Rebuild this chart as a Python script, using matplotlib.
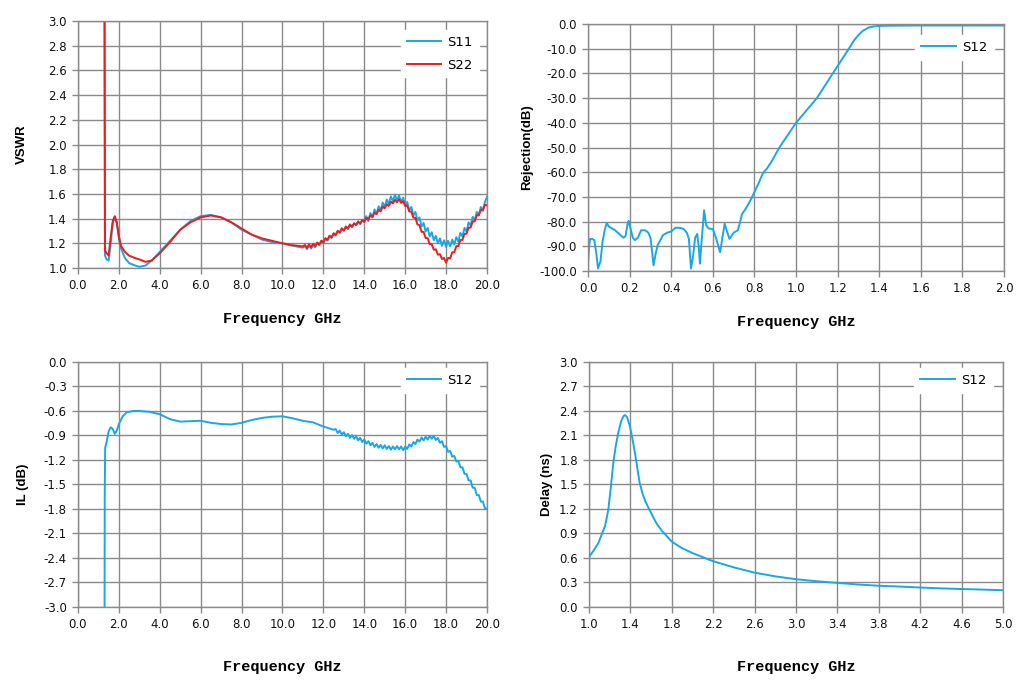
import numpy as np
import matplotlib
matplotlib.use("Agg")
import matplotlib.pyplot as plt

BLUE = "#1aa7e6"
RED = "#ee1c1c"
GRID = "#8a8a8a"

# ---- VSWR (top left) ----
vswr_f_low = [1.30, 1.32, 1.40, 1.50, 1.60, 1.70, 1.80, 1.90, 2.00, 2.10, 2.30, 2.50, 2.80, 3.00,
              3.30, 3.60, 4.00, 4.50, 5.00, 5.50, 6.00, 6.50, 7.00, 7.50, 8.00, 8.50, 9.00, 9.50,
              10.00, 10.50, 11.00]
vswr_f_high = list(np.round(np.arange(11.1, 20.05, 0.1), 1))

s11_low = [3.05, 1.10, 1.07, 1.06, 1.20, 1.36, 1.41, 1.36, 1.24, 1.16, 1.08, 1.04, 1.02, 1.01,
           1.02, 1.06, 1.13, 1.22, 1.31, 1.38, 1.42, 1.43, 1.41, 1.37, 1.31, 1.27, 1.23, 1.21,
           1.20, 1.18, 1.165]
s11_high = [1.177, 1.153, 1.182, 1.158, 1.187, 1.168, 1.202, 1.188, 1.217, 1.203,
            1.237, 1.223, 1.257, 1.243, 1.277, 1.263, 1.297, 1.283, 1.317, 1.303,
            1.332, 1.318, 1.352, 1.333, 1.362, 1.348, 1.377, 1.358, 1.392, 1.373,
            1.42, 1.38, 1.445, 1.41, 1.475, 1.435, 1.50, 1.465, 1.53, 1.495,
            1.555, 1.52, 1.58, 1.54, 1.595, 1.545, 1.59, 1.53, 1.57, 1.505,
            1.535, 1.465, 1.495, 1.425, 1.455, 1.385, 1.41, 1.335, 1.365, 1.295,
            1.325, 1.255, 1.29, 1.225, 1.26, 1.20, 1.24, 1.18, 1.225, 1.17,
            1.22, 1.175, 1.23, 1.19, 1.25, 1.215, 1.285, 1.255, 1.325, 1.295,
            1.37, 1.345, 1.415, 1.385, 1.455, 1.425, 1.495, 1.465, 1.535, 1.575]

s22_low = [3.05, 1.14, 1.12, 1.10, 1.25, 1.38, 1.42, 1.37, 1.26, 1.18, 1.13, 1.10, 1.08, 1.07,
           1.05, 1.06, 1.12, 1.21, 1.31, 1.37, 1.41, 1.425, 1.41, 1.37, 1.32, 1.27, 1.24, 1.22,
           1.20, 1.185, 1.175]
s22_high = [1.187, 1.163, 1.192, 1.168, 1.197, 1.178, 1.207, 1.188, 1.222, 1.208,
            1.242, 1.228, 1.262, 1.248, 1.282, 1.268, 1.302, 1.288, 1.322, 1.303,
            1.337, 1.318, 1.352, 1.333, 1.362, 1.348, 1.377, 1.358, 1.387, 1.373,
            1.407, 1.393, 1.427, 1.413, 1.447, 1.438, 1.472, 1.458, 1.497, 1.483,
            1.517, 1.503, 1.537, 1.523, 1.552, 1.533, 1.557, 1.528, 1.542, 1.503,
            1.507, 1.458, 1.457, 1.408, 1.407, 1.353, 1.347, 1.293, 1.292, 1.243,
            1.242, 1.193, 1.192, 1.148, 1.152, 1.108, 1.112, 1.073, 1.082, 1.043,
            1.082, 1.078, 1.127, 1.128, 1.177, 1.178, 1.227, 1.228, 1.277, 1.278,
            1.327, 1.328, 1.377, 1.378, 1.427, 1.428, 1.472, 1.468, 1.512, 1.508]

# ---- Rejection (top right) ----
rej_f = [0.000, 0.005, 0.010, 0.020, 0.030, 0.040, 0.048, 0.060, 0.070, 0.080, 0.090, 0.100,
         0.130, 0.150, 0.170, 0.180, 0.190, 0.195, 0.205, 0.215, 0.225, 0.240, 0.255, 0.275,
         0.290, 0.300, 0.308, 0.315, 0.325, 0.335, 0.360, 0.380, 0.400, 0.420, 0.440, 0.460,
         0.475, 0.485, 0.495, 0.505, 0.515, 0.525, 0.532, 0.538, 0.546, 0.558, 0.568, 0.580,
         0.600, 0.615, 0.625, 0.635, 0.645, 0.657, 0.668, 0.680, 0.700, 0.720, 0.730, 0.740,
         0.760, 0.780, 0.800, 0.820, 0.840, 0.860, 0.880, 0.900, 0.920, 0.940, 0.960, 0.980,
         1.000, 1.050, 1.100, 1.150, 1.200, 1.250, 1.280, 1.300, 1.320, 1.350, 1.380, 1.420,
         1.600, 2.000]
rej_s12 = [-97.0, -90.0, -87.0, -87.0, -87.5, -93.0, -99.0, -96.0, -88.0, -83.5, -80.5, -82.0,
           -83.5, -85.0, -86.5, -86.0, -81.0, -79.7, -83.0, -86.5, -87.5, -86.5, -83.5, -83.5,
           -84.5, -86.5, -92.0, -97.7, -93.0, -89.5, -85.5, -84.5, -84.0, -82.5, -82.5, -83.0,
           -84.5, -87.0, -99.0, -94.0, -86.5, -85.0, -90.0, -97.0, -88.0, -75.4, -81.5, -82.8,
           -83.0, -86.5, -89.5, -92.4, -87.0, -80.8, -84.0, -87.0, -84.5, -83.5, -80.5, -77.0,
           -74.5, -71.5, -68.0, -64.5, -60.5, -58.5, -56.0, -53.0, -50.0, -47.5, -45.0, -42.5,
           -40.0, -35.0, -30.0, -23.5, -17.0, -10.5, -6.5, -4.5, -2.8, -1.4, -0.9, -0.7,
           -0.6, -0.6]

# ---- Insertion loss (bottom left) ----
il_f_low = [1.30, 1.31, 1.33, 1.40, 1.50, 1.60, 1.70, 1.80, 1.90, 2.00, 2.20, 2.40, 2.70, 3.00,
            3.50, 4.00, 4.50, 5.00, 5.50, 6.00, 6.50, 7.00, 7.50, 8.00, 8.50, 9.00, 9.50, 10.00,
            10.50, 11.00, 11.50, 12.00, 12.50]
il_f_high = list(np.round(np.arange(12.6, 20.05, 0.1), 1))
il_low = [-3.0, -1.6, -1.05, -0.98, -0.85, -0.80, -0.82, -0.88, -0.84, -0.76, -0.66, -0.615,
          -0.60, -0.60, -0.61, -0.64, -0.70, -0.73, -0.725, -0.72, -0.745, -0.76, -0.765,
          -0.745, -0.71, -0.685, -0.67, -0.665, -0.69, -0.72, -0.74, -0.79, -0.83]
il_high = [-0.82, -0.87, -0.84, -0.89, -0.86, -0.91, -0.88, -0.93, -0.895, -0.94,
           -0.91, -0.96, -0.93, -0.98, -0.95, -1.00, -0.97, -1.02, -0.99, -1.04,
           -1.005, -1.05, -1.015, -1.06, -1.02, -1.065, -1.03, -1.075, -1.035, -1.07,
           -1.03, -1.07, -1.035, -1.08, -1.035, -1.065, -1.01, -1.035, -0.98, -1.005,
           -0.95, -0.975, -0.925, -0.96, -0.915, -0.95, -0.905, -0.94, -0.905, -0.955,
           -0.93, -0.99, -0.97, -1.04, -1.03, -1.10, -1.09, -1.16, -1.15, -1.22,
           -1.21, -1.29, -1.29, -1.37, -1.37, -1.45, -1.45, -1.54, -1.54, -1.63,
           -1.63, -1.71, -1.71, -1.79, -1.80]

# ---- Group delay (bottom right) ----
dl_f = [1.00, 1.05, 1.09, 1.155, 1.187, 1.21, 1.235, 1.26, 1.283, 1.31, 1.335, 1.35, 1.37,
        1.396, 1.42, 1.444, 1.47, 1.49, 1.52, 1.55, 1.589, 1.65, 1.70, 1.80, 1.90, 2.00, 2.20,
        2.40, 2.60, 2.80, 3.00, 3.20, 3.40, 3.60, 3.80, 4.00, 4.20, 4.40, 4.60, 4.80, 5.00]
dl_s12 = [0.61, 0.70, 0.78, 0.99, 1.19, 1.45, 1.76, 1.98, 2.13, 2.27, 2.34, 2.35, 2.32,
          2.21, 2.06, 1.89, 1.68, 1.52, 1.38, 1.28, 1.18, 1.03, 0.94, 0.80, 0.72, 0.66, 0.56,
          0.485, 0.42, 0.375, 0.34, 0.315, 0.295, 0.275, 0.26, 0.25, 0.238, 0.228, 0.22, 0.213,
          0.205]

fig = plt.figure(figsize=(10.3, 6.94), dpi=100)
ax1 = fig.add_axes([0.0757, 0.6138, 0.3971, 0.3559])
ax2 = fig.add_axes([0.5709, 0.6095, 0.4039, 0.3559])
ax3 = fig.add_axes([0.0757, 0.1254, 0.3971, 0.3530])
ax4 = fig.add_axes([0.5718, 0.1254, 0.4019, 0.3530])

tick_font = {"family": "DejaVu Sans", "size": 8.5}
xlab_font = {"family": "Liberation Mono", "weight": "bold", "size": 11}
ylab_font = {"family": "Liberation Sans", "weight": "bold", "size": 9.5}


def fmt(t):
    t = 0.0 if abs(t) < 1e-9 else t
    return f"{t:.1f}"


def style(ax, xlim, xticks, ylim, yticks, ylabel, ylab_x, xpad):
    ax.set_xlim(xlim)
    ax.set_ylim(ylim)
    ax.set_xticks(xticks)
    ax.set_yticks(yticks)
    ax.set_xticklabels([fmt(t) for t in xticks], **tick_font)
    ax.set_yticklabels([fmt(t) for t in yticks], **tick_font)
    ax.grid(True, color=GRID, linewidth=1.0)
    ax.set_axisbelow(True)
    for sp in ax.spines.values():
        sp.set_color(GRID)
        sp.set_linewidth(1.0)
    ax.tick_params(direction="out", length=4, width=1.0, color=GRID, pad=4, labelcolor="#111111")
    ax.set_xlabel("Frequency GHz", labelpad=xpad, **xlab_font)
    ax.set_ylabel(ylabel, **ylab_font)
    ax.yaxis.set_label_coords(ylab_x, 0.5)


def legend(ax, anchor):
    lg = ax.legend(loc="upper right", bbox_to_anchor=anchor, frameon=True, fancybox=False,
                   framealpha=1.0, edgecolor="white", facecolor="white",
                   prop={"family": "DejaVu Sans", "size": 9.5},
                   handlelength=2.6, handletextpad=0.5, labelspacing=0.75,
                   borderpad=0.45, borderaxespad=0.0)
    return lg


ax1.plot(vswr_f_low + vswr_f_high, s11_low + s11_high, color=BLUE, lw=1.4, label="S11")
ax1.plot(vswr_f_low + vswr_f_high, s22_low + s22_high, color=RED, lw=1.4, label="S22")
style(ax1, (0, 20), np.arange(0, 20.01, 2.0), (1.0, 3.0), np.arange(1.0, 3.01, 0.2),
      "VSWR", -0.123, 14)
legend(ax1, (0.98, 0.965))

ax2.plot(rej_f, rej_s12, color=BLUE, lw=1.4, label="S12")
style(ax2, (0, 2), np.arange(0, 2.001, 0.2), (-100, 0), np.arange(-100, 0.1, 10),
      "Rejection(dB)", -0.133, 14)
legend(ax2, (0.975, 0.955))

ax3.plot(il_f_low + il_f_high, il_low + il_high, color=BLUE, lw=1.4, label="S12")
style(ax3, (0, 20), np.arange(0, 20.01, 2.0), (-3.0, 0.0), np.arange(-3.0, 0.01, 0.3),
      "IL (dB)", -0.12, 21)
legend(ax3, (0.98, 0.975))

ax4.plot(dl_f, dl_s12, color=BLUE, lw=1.4, label="S12")
style(ax4, (1.0, 5.0), np.arange(1.0, 5.001, 0.4), (0.0, 3.0), np.arange(0.0, 3.01, 0.3),
      "Delay (ns)", -0.088, 21)
legend(ax4, (0.975, 0.975))

fig.savefig("out.png", dpi=100)
